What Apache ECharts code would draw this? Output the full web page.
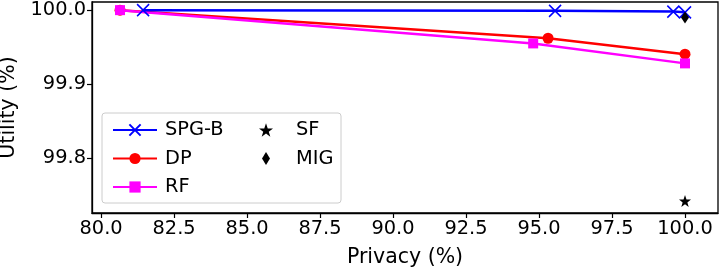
<!DOCTYPE html>
<html><head><meta charset="utf-8">
<script src="https://cdn.jsdelivr.net/npm/echarts@6/dist/echarts.min.js"></script>
<style>html,body{margin:0;padding:0;background:#fff}#c{width:720px;height:267px}</style>
</head><body><div id="c"></div>
<script>
const spgX = [81.44, 95.55, 99.6, 100.0];
const spgY = [100.0, 99.999, 99.998, 99.997];
const dpX = [80.65, 95.31, 100.0];
const dpY = [100.0, 99.962, 99.9405];
const rfX = [80.65, 94.8, 100.0];
const rfY = [100.0, 99.955, 99.928];
const sfX = [100.0];
const sfY = [99.742];
const migX = [100.0];
const migY = [99.99];
const xTicks = [80, 82.5, 85, 87.5, 90, 92.5, 95, 97.5, 100];
const yTicks = [99.8, 99.9, 100.0];

const zip = (a, b) => a.map((v, i) => [v, b[i]]);
const crossPath = 'path://M0,0L10,10M10,0L0,10';
const starPath = 'path://M50,0L61.8,35.1L97.6,35.1L68.8,56.8L79.4,90.5L50,69.5L20.6,90.5L31.2,56.8L2.4,35.1L38.2,35.1Z';
const F = 'DejaVu Sans';
const legText = (pad) => ({fontFamily: F, fontSize: 19.4, lineHeight: 22, color: '#000', padding: [0, 0, 0, pad]});

const chart = echarts.init(document.getElementById('c'));
chart.setOption({
  animation: false,
  grid: {left: 92, right: 2, top: 2, bottom: 54, containLabel: false, outerBoundsMode: 'none',
    show: true, borderColor: '#000', borderWidth: 1.3},
  xAxis: {
    type: 'value', min: 79.69, max: 101.13,
    name: 'Privacy (%)', nameLocation: 'middle', nameGap: 34,
    nameTextStyle: {fontFamily: F, fontSize: 20.5, color: '#000'},
    axisLine: {show: true, onZero: false, lineStyle: {color: '#000', width: 1.3}},
    axisTick: {show: true, length: 5, customValues: xTicks, lineStyle: {color: '#000', width: 1.2}},
    axisLabel: {customValues: xTicks, fontFamily: F, fontSize: 19.4, color: '#000', margin: 6,
      formatter: v => v.toFixed(1)},
    splitLine: {show: false}
  },
  yAxis: {
    type: 'value', min: 99.7257, max: 100.011,
    name: 'Utility (%)', nameLocation: 'middle', nameGap: 57,
    nameTextStyle: {fontFamily: F, fontSize: 20.5, color: '#000'},
    axisLine: {show: true, onZero: false, lineStyle: {color: '#000', width: 1.3}},
    axisTick: {show: true, length: 5, customValues: yTicks, lineStyle: {color: '#000', width: 1.2}},
    axisLabel: {customValues: yTicks, fontFamily: F, fontSize: 19.4, color: '#000', margin: 6,
      formatter: v => v.toFixed(1)},
    splitLine: {show: false}
  },
  graphic: [{type: 'rect', shape: {x: 102, y: 113, width: 239, height: 90, r: 3},
    style: {fill: 'rgba(255,255,255,0.8)', stroke: '#cccccc', lineWidth: 1}, z: 50}],
  legend: [
    {data: ['SPG-B', 'DP', 'RF'], orient: 'vertical', left: 107, top: 114,
     itemWidth: 44, itemHeight: 14, itemGap: 6.5, z: 60, textStyle: legText(3)},
    {data: ['SF'], orient: 'vertical', left: 254, top: 114,
     itemWidth: 14, itemHeight: 14, z: 60, textStyle: legText(18)},
    {data: ['MIG'], orient: 'vertical', left: 257, top: 142.5,
     itemWidth: 8, itemHeight: 13, z: 60, textStyle: legText(21)}
  ],
  series: [
    {name: 'SPG-B', type: 'line', data: zip(spgX, spgY), symbol: crossPath, symbolSize: 12,
     lineStyle: {color: '#0000ff', width: 2.5}, itemStyle: {color: '#0000ff', borderColor: '#0000ff', borderWidth: 1.5}, z: 5},
    {name: 'DP', type: 'line', data: zip(dpX, dpY), symbol: 'circle', symbolSize: 11,
     lineStyle: {color: '#ff0000', width: 2.5}, itemStyle: {color: '#ff0000'}, z: 3},
    {name: 'RF', type: 'line', data: zip(rfX, rfY), symbol: 'rect', symbolSize: 10,
     lineStyle: {color: '#ff00ff', width: 2.5}, itemStyle: {color: '#ff00ff'}, z: 4},
    {name: 'SF', type: 'scatter', data: zip(sfX, sfY), symbol: starPath, symbolSize: 12,
     itemStyle: {color: '#000', opacity: 1}, z: 6},
    {name: 'MIG', type: 'scatter', data: zip(migX, migY), symbol: 'diamond', symbolSize: [8, 12],
     itemStyle: {color: '#000', opacity: 1}, z: 6}
  ]
});
</script></body></html>
